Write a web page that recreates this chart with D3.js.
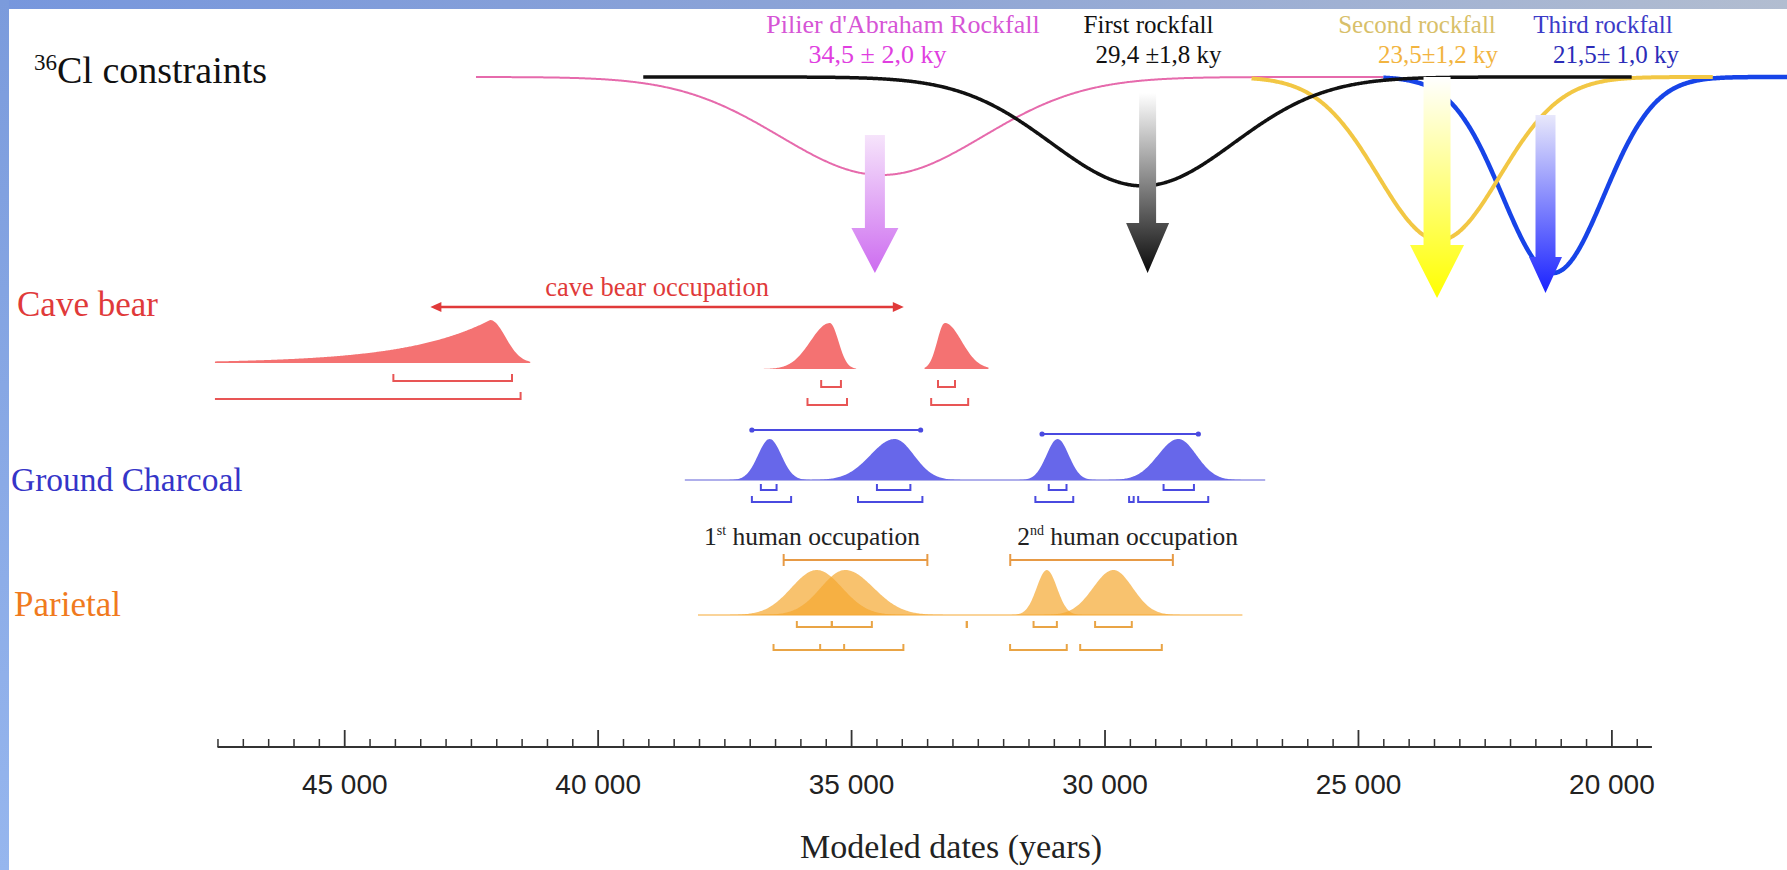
<!DOCTYPE html>
<html>
<head>
<meta charset="utf-8">
<title>Modeled dates</title>
<style>
  body { margin: 0; background: #fff; }
  svg { display: block; }
  .serif { font-family: "Liberation Serif", "Times New Roman", serif; }
  .sans { font-family: "Liberation Sans", Arial, sans-serif; }
</style>
</head>
<body>
<script src="https://cdn.jsdelivr.net/npm/d3@7"></script>
<script>
var width = 1787, height = 870;

// ---------- data (years) ----------
var axisStart = 47500, axisEnd = 19200;
var majorTicks = [45000, 40000, 35000, 30000, 25000, 20000];
var minorStep = 500;

// 36Cl rockfall constraints
var rockfallNames = ["Pilier d'Abraham Rockfall", "First rockfall", "Second rockfall", "Third rockfall"];
var rockfallAges = ["34,5 ± 2,0 ky", "29,4 ±1,8 ky", "23,5±1,2 ky", "21,5± 1,0 ky"];
var rockfallMean = [34400, 29250, 23400, 21150];
var rockfallSd = [2000, 1800, 1200, 1000];
var rockfallFrom = [42400, 39100, 27100, 24500];
var rockfallTo = [24500, 19600, 18000, 16500];
var rockfallArrow = [34530, 29150, 23440, 21300];

// Cave bear
var caveBearPeak = [42120, 35420, 33150];
var caveBearOld = [1650, 380, 150];     // spread towards older ages
var caveBearYoung = [300, 170, 330];    // spread towards younger ages
var caveBearTail = [1, 2, 2];           // 1 = exponential tail, 2 = normal
var caveBearFrom = [47550, 37050, 33550];
var caveBearTo = [41330, 34900, 32290];
var caveBear68 = [[44030, 41690], [35590, 35200], [33285, 32950]];
var caveBear95 = [[47550, 41520], [35860, 35080], [33420, 32690]];
var caveBearSpan = [43300, 33960];

// Ground charcoal
var charcoalPeak = [36606, 34140, 30925, 28545];
var charcoalOld = [230, 480, 220, 400];
var charcoalYoung = [230, 380, 220, 360];
var charcoalBase = [38280, 26830];
var charcoal68 = [[36780, 36470], [34490, 33830], [31100, 30750], [28835, 28236]];
var charcoal95 = [[36957, 36183], [34863, 33593], [31364, 30617], [29336, 27954], [29515, 29425]];
var charcoalSpans = [[36957, 33628], [31232, 28149]];

// Parietal
var parietalPeak = [35677, 35118, 31138, 29825];
var parietalOld = [500, 480, 200, 400];
var parietalYoung = [500, 560, 200, 380];
var parietalBase = [38020, 27280];
var parietal68 = [[36070, 35380], [35380, 34590], [31400, 30940], [30186, 29462], [32717, 32717]];
var parietal95 = [[36530, 35137], [35610, 33968], [31863, 30745], [30480, 28870]];
var parietalSpans = [[36330, 33495], [31860, 28652]];
var occupationNum = ["1", "2"];
var occupationSup = ["st", "nd"];
var occupationAt = [35770, 29545];

// ---------- setup ----------
var svg = d3.select("body").append("svg")
  .attr("width", width).attr("height", height);
var defs = svg.append("defs");

svg.append("rect").attr("width", width).attr("height", height).attr("fill", "#fff");

// frame strips
var gTop = defs.append("linearGradient").attr("id", "frameTop");
gTop.append("stop").attr("offset", "0").attr("stop-color", "#7797dd");
gTop.append("stop").attr("offset", "0.5").attr("stop-color", "#8ea5d6");
gTop.append("stop").attr("offset", "1").attr("stop-color", "#b2bdd0");
var gLeft = defs.append("linearGradient").attr("id", "frameLeft")
  .attr("x1", 0).attr("y1", 0).attr("x2", 0).attr("y2", 1);
gLeft.append("stop").attr("offset", "0").attr("stop-color", "#7b9bdc");
gLeft.append("stop").attr("offset", "1").attr("stop-color", "#96b6ee");
svg.append("rect").attr("x", 0).attr("y", 0).attr("width", width).attr("height", 9).attr("fill", "url(#frameTop)");
svg.append("rect").attr("x", 0).attr("y", 0).attr("width", 9).attr("height", height).attr("fill", "url(#frameLeft)");

var x = d3.scaleLinear().domain([45000, 20000]).range([344.2, 1611.4]);

function shape(v, peak, old, young, tail) {
  if (v >= peak) {
    var z = (v - peak) / old;
    return tail === 1 ? Math.exp(-z) : Math.exp(-z * z / 2);
  }
  var w = (peak - v) / young;
  return Math.exp(-w * w / 2);
}
function samples(a, b) {
  var out = [], step = 20;
  for (var v = a; v > b; v -= step) out.push(v);
  out.push(b);
  return out;
}

// ---------- 36Cl constraints ----------
var clBase = 77;
var densY = d3.scaleLinear().domain([0, 1]).range([clBase, clBase + 196]);

var clTitle = svg.append("text").attr("class", "serif").attr("x", 34).attr("y", 83)
  .attr("font-size", 38).attr("fill", "#111");
clTitle.append("tspan").attr("font-size", 23).attr("dy", -13).text("36");
clTitle.append("tspan").attr("dy", 13).text("Cl constraints");

var curveColor = ["#e66aac", "#111111", "#f2c744", "#1744e8"];
var curveWidth = [2, 3.5, 4, 4.5];
var drawOrder = [0, 3, 2, 1];
var gCurves = svg.append("g");
drawOrder.forEach(function (i) {
  var line = d3.line()
    .x(function (v) { return x(v); })
    .y(function (v) {
      var z = (v - rockfallMean[i]) / rockfallSd[i];
      return densY(Math.exp(-z * z / 2) / (rockfallSd[i] / 1000));
    })
    .curve(d3.curveBasis);
  gCurves.append("path")
    .attr("d", line(samples(rockfallFrom[i], rockfallTo[i])))
    .attr("fill", "none")
    .attr("stroke", curveColor[i])
    .attr("stroke-width", curveWidth[i]);
});

// arrows
var arrowGeom = [
  { top: 135, headY: 228, tip: 273, shaft: 20, head: 47, c0: "#f6e4fb", c1: "#cd6cf0" },
  { top: 93,  headY: 223, tip: 273, shaft: 17, head: 43, c0: "#ffffff", c1: "#0a0a0a" },
  { top: 77,  headY: 245, tip: 298, shaft: 27, head: 54, c0: "#ffffff", c1: "#ffff00" },
  { top: 115, headY: 257, tip: 293, shaft: 20, head: 33, c0: "#e8e8fb", c1: "#1a22ff" }
];
rockfallArrow.forEach(function (yr, i) {
  var g = arrowGeom[i], cx = x(yr);
  var grad = defs.append("linearGradient").attr("id", "arr" + i)
    .attr("gradientUnits", "userSpaceOnUse")
    .attr("x1", cx).attr("x2", cx).attr("y1", g.top).attr("y2", g.tip);
  grad.append("stop").attr("offset", "0").attr("stop-color", g.c0);
  grad.append("stop").attr("offset", "1").attr("stop-color", g.c1);
  var s = g.shaft / 2, h = g.head / 2;
  var pts = [[cx - s, g.top], [cx + s, g.top], [cx + s, g.headY], [cx + h, g.headY],
             [cx, g.tip], [cx - h, g.headY], [cx - s, g.headY]];
  svg.append("path").attr("d", "M" + pts.join("L") + "Z").attr("fill", "url(#arr" + i + ")");
});

// rockfall labels
var labelLayout = [[903, 877.5], [1148.5, 1158.5], [1417, 1438], [1603, 1616]];
var labelSize = [26, 25, 25, 25];
var labelCol1 = ["#d655d6", "#111111", "#d8bf6a", "#3b3bc8"];
var labelCol2 = ["#e03ee0", "#111111", "#f2b440", "#2c2cb8"];
rockfallNames.forEach(function (n, i) {
  svg.append("text").attr("class", "serif").attr("x", labelLayout[i][0]).attr("y", 33)
    .attr("text-anchor", "middle").attr("font-size", labelSize[i]).attr("fill", labelCol1[i]).text(n);
  svg.append("text").attr("class", "serif").attr("x", labelLayout[i][1]).attr("y", 63)
    .attr("text-anchor", "middle").attr("font-size", labelSize[i]).attr("fill", labelCol2[i]).text(rockfallAges[i]);
});

// ---------- helpers for rows ----------
function drawDist(g, peak, old, young, tail, from, to, baseY, h, fill, opacity) {
  var yS = d3.scaleLinear().domain([0, 1]).range([baseY, baseY - h]);
  var area = d3.area()
    .x(function (v) { return x(v); })
    .y0(baseY)
    .y1(function (v) { return yS(shape(v, peak, old, young, tail)); });
  g.append("path").attr("d", area(samples(from, to)))
    .attr("fill", fill).attr("fill-opacity", opacity);
}
function drawBracket(g, r, y, tick, color) {
  var a = x(r[0]), b = x(r[1]);
  g.append("line").attr("x1", a).attr("x2", b).attr("y1", y).attr("y2", y)
    .attr("stroke", color).attr("stroke-width", 2);
  if (r[0] <= axisStart)
    g.append("line").attr("x1", a).attr("x2", a).attr("y1", y + 1).attr("y2", y - tick)
      .attr("stroke", color).attr("stroke-width", 2);
  g.append("line").attr("x1", b).attr("x2", b).attr("y1", y + 1).attr("y2", y - tick)
    .attr("stroke", color).attr("stroke-width", 2);
}

// ---------- Cave bear ----------
var cbColor = "#e03a3a", cbFill = "#f47272", cbLine = "#e85555";
var gCB = svg.append("g");
svg.append("text").attr("class", "serif").attr("x", 17).attr("y", 316)
  .attr("font-size", 35).attr("fill", cbColor).text("Cave bear");
var cbBaseY = [363, 369, 369], cbH = [43, 46, 46];
caveBearPeak.forEach(function (p, i) {
  drawDist(gCB, p, caveBearOld[i], caveBearYoung[i], caveBearTail[i],
    caveBearFrom[i], caveBearTo[i], cbBaseY[i], cbH[i], cbFill, 1);
  drawBracket(gCB, caveBear68[i], cbBaseY[i] + 18, 7, cbLine);
  drawBracket(gCB, caveBear95[i], cbBaseY[i] + 36, 7, cbLine);
});
// occupation double arrow
var ax0 = x(caveBearSpan[0]), ax1 = x(caveBearSpan[1]), ay = 307;
gCB.append("line").attr("x1", ax0 + 4).attr("x2", ax1 - 4).attr("y1", ay).attr("y2", ay)
  .attr("stroke", cbColor).attr("stroke-width", 2.5);
gCB.append("path").attr("d", "M" + ax0 + "," + ay + "L" + (ax0 + 11) + "," + (ay - 5) + "L" + (ax0 + 11) + "," + (ay + 5) + "Z").attr("fill", cbColor);
gCB.append("path").attr("d", "M" + ax1 + "," + ay + "L" + (ax1 - 11) + "," + (ay - 5) + "L" + (ax1 - 11) + "," + (ay + 5) + "Z").attr("fill", cbColor);
gCB.append("text").attr("class", "serif").attr("x", (ax0 + ax1) / 2 - 10).attr("y", 296)
  .attr("text-anchor", "middle").attr("font-size", 26.5).attr("fill", cbColor).text("cave bear occupation");

// ---------- Ground charcoal ----------
var chColor = "#3535c8", chFill = "#6767ea", chLine = "#4a4ae0";
var gCH = svg.append("g");
svg.append("text").attr("class", "serif").attr("x", 11).attr("y", 491)
  .attr("font-size", 33.5).attr("fill", chColor).text("Ground Charcoal");
var chBase = 480, chH = 41;
gCH.append("line").attr("x1", x(charcoalBase[0])).attr("x2", x(charcoalBase[1]))
  .attr("y1", chBase).attr("y2", chBase).attr("stroke", "#9595e4").attr("stroke-width", 1.5);
charcoalPeak.forEach(function (p, i) {
  drawDist(gCH, p, charcoalOld[i], charcoalYoung[i], 2,
    p + 4 * charcoalOld[i], p - 4 * charcoalYoung[i], chBase, chH, chFill, 1);
});
charcoal68.forEach(function (r) { drawBracket(gCH, r, 490, 6, chLine); });
charcoal95.forEach(function (r) { drawBracket(gCH, r, 502, 6, chLine); });
charcoalSpans.forEach(function (s, i) {
  var sy = 430 + i * 4;
  gCH.append("line").attr("x1", x(s[0])).attr("x2", x(s[1])).attr("y1", sy).attr("y2", sy)
    .attr("stroke", chLine).attr("stroke-width", 2);
  [s[0], s[1]].forEach(function (v) {
    gCH.append("circle").attr("cx", x(v)).attr("cy", sy).attr("r", 2.6).attr("fill", chLine);
  });
});

// ---------- Parietal ----------
var paColor = "#f07a1e", paFill = "#f5a830", paLine = "#e9a445";
var gPA = svg.append("g");
svg.append("text").attr("class", "serif").attr("x", 14).attr("y", 616)
  .attr("font-size", 35).attr("fill", paColor).text("Parietal");
var paBase = 615, paH = 45;
gPA.append("line").attr("x1", x(parietalBase[0])).attr("x2", x(parietalBase[1]))
  .attr("y1", paBase).attr("y2", paBase).attr("stroke", "#f8c678").attr("stroke-width", 1.5);
parietalPeak.forEach(function (p, i) {
  drawDist(gPA, p, parietalOld[i], parietalYoung[i], 2,
    p + 4 * parietalOld[i], p - 4 * parietalYoung[i], paBase, paH, paFill, 0.7);
});
parietal68.forEach(function (r) { drawBracket(gPA, r, 627, 6, paLine); });
parietal95.forEach(function (r) { drawBracket(gPA, r, 650, 6, paLine); });
parietalSpans.forEach(function (s) {
  var sy = 560;
  gPA.append("line").attr("x1", x(s[0])).attr("x2", x(s[1])).attr("y1", sy).attr("y2", sy)
    .attr("stroke", "#e79a45").attr("stroke-width", 2.2);
  [s[0], s[1]].forEach(function (v) {
    gPA.append("line").attr("x1", x(v)).attr("x2", x(v)).attr("y1", sy - 6).attr("y2", sy + 6)
      .attr("stroke", "#e79a45").attr("stroke-width", 2);
  });
});
occupationAt.forEach(function (v, i) {
  var t = gPA.append("text").attr("class", "serif").attr("x", x(v)).attr("y", 545)
    .attr("text-anchor", "middle").attr("font-size", 25.5).attr("fill", "#222");
  t.append("tspan").text(occupationNum[i]);
  t.append("tspan").attr("font-size", 14).attr("dy", -10).text(occupationSup[i]);
  t.append("tspan").attr("dy", 10).text(" human occupation");
});

// ---------- axis ----------
var axisY = 747;
var fmt = d3.formatLocale({ decimal: ".", thousands: " ", grouping: [3], currency: ["", ""] }).format(",");
var minorTicks = d3.range(axisStart, axisEnd, -minorStep).filter(function (v) { return v % 5000 !== 0; });

var gAxis = svg.append("g").attr("transform", "translate(0," + axisY + ")");
gAxis.append("line").attr("x1", x(axisStart)).attr("x2", x(axisEnd)).attr("y1", 0).attr("y2", 0)
  .attr("stroke", "#333").attr("stroke-width", 2.2);
var major = gAxis.append("g").call(
  d3.axisBottom(x).tickValues(majorTicks).tickSize(-17).tickSizeOuter(0).tickFormat(fmt));
major.select(".domain").remove();
major.selectAll(".tick line").attr("stroke", "#333").attr("stroke-width", 1.8);
major.selectAll(".tick text").attr("class", "sans").attr("y", 47).attr("dy", 0)
  .attr("font-size", 28).attr("fill", "#222");
var minor = gAxis.append("g").call(
  d3.axisBottom(x).tickValues(minorTicks).tickSize(-8).tickSizeOuter(0).tickFormat(""));
minor.select(".domain").remove();
minor.selectAll(".tick line").attr("stroke", "#333").attr("stroke-width", 1.5);

svg.append("text").attr("class", "serif").attr("x", 951).attr("y", 858)
  .attr("text-anchor", "middle").attr("font-size", 34).attr("fill", "#222").text("Modeled dates (years)");
</script>
</body>
</html>
